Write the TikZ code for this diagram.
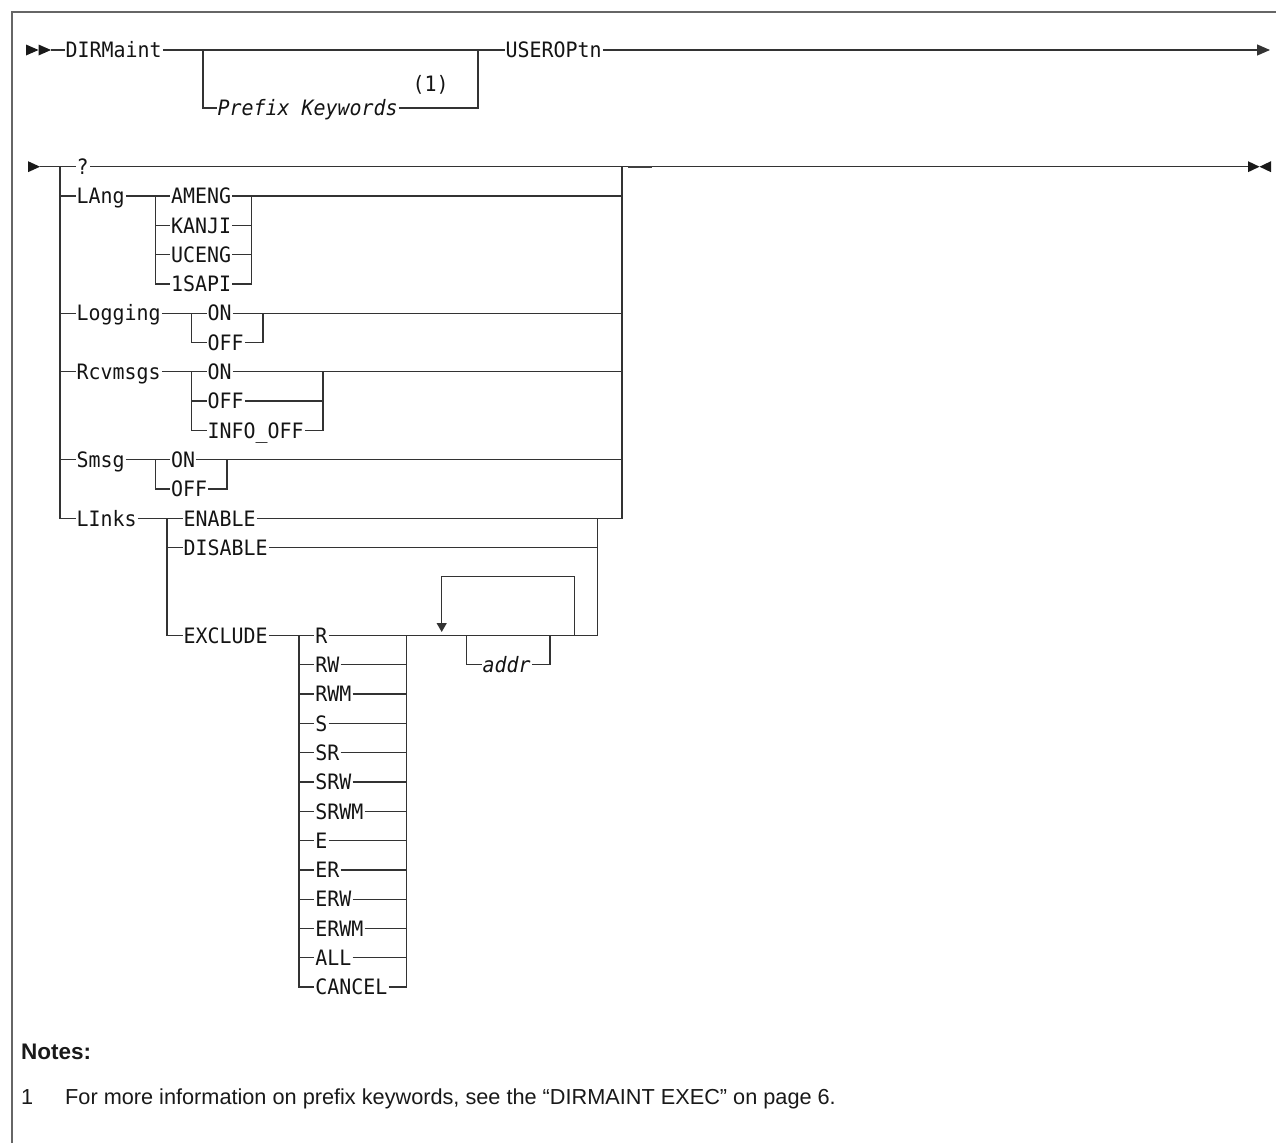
\documentclass[tikz,border=0pt]{standalone}
\usepackage{fontspec}
\setmainfont{Liberation Sans}
\newfontfamily\kwfam{DejaVu Sans Mono}[FakeStretch=0.94]
\usetikzlibrary{arrows.meta}
\newcommand\kwfont{\kwfam\fontsize{21.2pt}{22pt}\selectfont}
\newcommand\notefont{\fontsize{21.7pt}{24pt}\selectfont}
\begin{document}
\begin{tikzpicture}[x=1pt,y=-1pt,
  kw/.style={font=\kwfont, text=black!92, inner xsep=1pt, inner ysep=0pt, text height=15.4pt, text depth=0pt, anchor=west},
  var/.style={kw, font=\kwfont\itshape},
  ln/.style={line width=1.3pt, draw=black!80},
  framebox/.style={line width=2pt, draw=black!60},
  tipfill/.style={fill=black!90},
  endarrow/.style={ln, -{Triangle[length=13pt,width=11pt]}},
  note/.style={font=\notefont, text=black!90, inner sep=0pt, text height=15.5pt, text depth=0pt, anchor=west}]
\useasboundingbox (0,0) rectangle (1276,1143);
\draw[framebox] (12,1143) -- (12,11.5) -- (1276,11.5);

% ---------- Row 1
\fill[tipfill] (26,44.5) -- (38.5,50) -- (26,55.5) -- cycle;
\fill[tipfill] (38.5,44.5) -- (51,50) -- (38.5,55.5) -- cycle;
\coordinate (r1s) at (51,50);
\node[kw] (dirm) at (64.5,50) {DIRMaint};
\coordinate (b1l) at (203,50);
\coordinate (b1r) at (478,50);
\node[var] (pk) at (216.5,108.1) {Prefix Keywords};
\node[kw] (fn1) at (411.5,84) {(1)};
\node[kw] (usr) at (504.5,50) {USEROPtn};
\draw[ln] (r1s) -- (dirm.west);
\draw[ln] (dirm.east) -- (b1l) -- (b1r) -- (usr.west);
\draw[ln] (b1l) |- (pk.west);
\draw[ln] (pk.east) -| (b1r);
\draw[endarrow] (usr.east) -- (1270,50);

% ---------- Row 2
\fill[tipfill] (28,161.2) -- (40,166.7) -- (28,172.2) -- cycle;
\coordinate (r2s) at (40,166.7);
\coordinate (vL) at (60,166.7);
\coordinate (vR) at (622,166.7);
\coordinate (r2e) at (1248,166.7);
\node[kw] (q) at (75.5,166.7) {?};
\draw[ln] (r2s) -- (vL) -- (q.west);
\draw[ln] (q.east) -- (vR) -- (r2e);
\draw[line width=2.2pt, black!75] (628,166.7) -- (652,166.7);
\fill[tipfill] (1248,161.2) -- (1259.5,166.7) -- (1248,172.2) -- cycle;
\fill[tipfill] (1271,161.2) -- (1259.5,166.7) -- (1271,172.2) -- cycle;

% LAng
\node[kw] (lang) at (75.5,196) {LAng};
\coordinate (langL) at (155.7,196);
\coordinate (langR) at (251.3,196);
\node[kw] (ameng) at (170,196) {AMENG};
\node[kw] (kanji) at (170,225.3) {KANJI};
\node[kw] (uceng) at (170,254.6) {UCENG};
\node[kw] (sapi) at (170,283.9) {1SAPI};
\draw[ln] (vL |- lang.west) -- (lang.west);
\draw[ln] (lang.east) -- (langL) -- (ameng.west);
\draw[ln] (ameng.east) -- (vR |- ameng.east);
\draw[ln] (langL) |- (sapi.west);
\draw[ln] (langL |- kanji.west) -- (kanji.west);
\draw[ln] (langL |- uceng.west) -- (uceng.west);
\draw[ln] (kanji.east) -- (langR |- kanji.east);
\draw[ln] (uceng.east) -- (langR |- uceng.east);
\draw[ln] (sapi.east) -| (langR);

% Logging
\node[kw] (log) at (75.5,313.2) {Logging};
\coordinate (logL) at (191.5,313.2);
\coordinate (logR) at (263,313.2);
\node[kw] (logon) at (206.5,313.2) {ON};
\node[kw] (logoff) at (206.5,342.5) {OFF};
\draw[ln] (vL |- log.west) -- (log.west);
\draw[ln] (log.east) -- (logL) -- (logon.west);
\draw[ln] (logon.east) -- (vR |- logon.east);
\draw[ln] (logL) |- (logoff.west);
\draw[ln] (logoff.east) -| (logR);

% Rcvmsgs
\node[kw] (rcv) at (75.5,371.8) {Rcvmsgs};
\coordinate (rcvL) at (191.5,371.8);
\coordinate (rcvR) at (323,371.8);
\node[kw] (rcvon) at (206.5,371.8) {ON};
\node[kw] (rcvoff) at (206.5,401.1) {OFF};
\node[kw] (rcvinfo) at (206.5,430.4) {INFO\_OFF};
\draw[ln] (vL |- rcv.west) -- (rcv.west);
\draw[ln] (rcv.east) -- (rcvL) -- (rcvon.west);
\draw[ln] (rcvon.east) -- (vR |- rcvon.east);
\draw[ln] (rcvL) |- (rcvinfo.west);
\draw[ln] (rcvL |- rcvoff.west) -- (rcvoff.west);
\draw[ln] (rcvoff.east) -- (rcvR |- rcvoff.east);
\draw[ln] (rcvinfo.east) -| (rcvR);

% Smsg
\node[kw] (smsg) at (75.5,459.7) {Smsg};
\coordinate (smsgL) at (155.7,459.7);
\coordinate (smsgR) at (227,459.7);
\node[kw] (smon) at (170,459.7) {ON};
\node[kw] (smoff) at (170,489) {OFF};
\draw[ln] (vL |- smsg.west) -- (smsg.west);
\draw[ln] (smsg.east) -- (smsgL) -- (smon.west);
\draw[ln] (smon.east) -- (vR |- smon.east);
\draw[ln] (smsgL) |- (smoff.west);
\draw[ln] (smoff.east) -| (smsgR);

% LInks
\node[kw] (links) at (75.5,518.3) {LInks};
\coordinate (lnkL) at (167,518.3);
\coordinate (lnkR) at (597.6,518.3);
\node[kw] (enable) at (182.5,518.3) {ENABLE};
\node[kw] (disable) at (182.5,547.6) {DISABLE};
\node[kw] (exclude) at (182.5,635.5) {EXCLUDE};
\coordinate (exR) at (597.6,635.5);
\draw[ln] (vL) |- (links.west);
\draw[ln] (links.east) -- (lnkL) -- (enable.west);
\draw[ln] (enable.east) -- (vR |- enable.east) -- (vR);
\draw[ln] (lnkL) |- (exclude.west);
\draw[ln] (lnkL |- disable.west) -- (disable.west);
\draw[ln] (disable.east) -- (lnkR |- disable.east);
\draw[ln] (lnkR) -- (exR);

% EXCLUDE options
\coordinate (optL) at (299,635.5);
\coordinate (optR) at (406.7,635.5);
\foreach \t [count=\i from 0] in {R,RW,RWM,S,SR,SRW,SRWM,E,ER,ERW,ERWM,ALL,CANCEL}
  \node[kw] (opt\i) at (314.2,{635.5+29.3*\i}) {\t};
\draw[ln] (exclude.east) -- (optL) -- (opt0.west);
\draw[ln] (opt0.east) -- (optR) -- (exR);
\draw[ln] (optL) |- (opt12.west);
\draw[ln] (opt12.east) -| (optR);
\foreach \i in {1,...,11} {
  \draw[ln] (optL |- opt\i.west) -- (opt\i.west);
  \draw[ln] (opt\i.east) -- (optR |- opt\i.east);
}

% repeat loop
\coordinate (lpR) at (574.3,635.5);
\coordinate (lpT) at (441.7,576.7);
\coordinate (lpB) at (441.7,632);
\draw[ln, -{Triangle[length=9pt,width=10pt]}] (lpR) |- (lpT) -- (lpB);

% addr
\coordinate (adL) at (466.5,635.5);
\coordinate (adR) at (550,635.5);
\node[var] (addr) at (481.5,664.8) {addr};
\draw[ln] (adL) |- (addr.west);
\draw[ln] (addr.east) -| (adR);

% ---------- Notes
\node[note, font=\fontsize{22.5pt}{24pt}\selectfont\bfseries] (notes) at (21,1052) {Notes:};
\node[note] (nnum) at (21,1097) {1};
\node[note] (ntext) at (65,1097) {For more information on prefix keywords, see the “DIRMAINT EXEC” on page 6.};
\end{tikzpicture}
\end{document}
